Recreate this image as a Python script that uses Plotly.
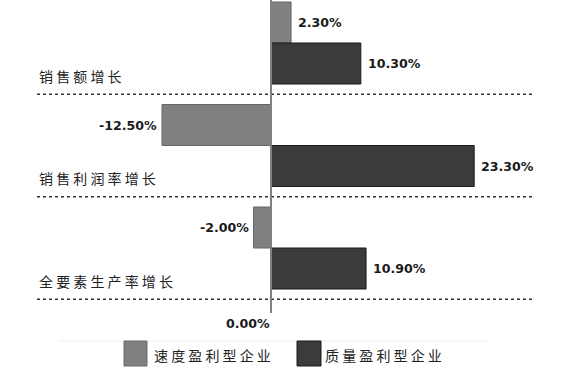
import plotly.graph_objects as go

categories = ["销售额增长", "销售利润率增长", "全要素生产率增长"]
series_names = ["速度盈利型企业", "质量盈利型企业"]
speed_values = [2.3, -12.5, -2.0]
quality_values = [10.3, 23.3, 10.9]
zero_label = "0.00%"

W, H = 571, 374
x0_px = 271.0
px_per_unit = 8.72
y_c0 = 43.0
px_per_cat = 102.5

xr = [-x0_px / px_per_unit, (W - x0_px) / px_per_unit]
yr = [(H - y_c0) / px_per_cat, -y_c0 / px_per_cat]

ypos = list(range(len(categories)))
cjk = "Noto Sans CJK SC"
numfont = dict(family="DejaVu Sans", size=12.6, color="#1a1a1a")

fig = go.Figure()
fig.add_trace(go.Bar(
    y=ypos, x=speed_values, orientation="h", name=series_names[0],
    width=0.4, offset=-0.4,
    marker=dict(color="#808080", line=dict(color="#666666", width=1)),
    showlegend=False, hoverinfo="skip"))
fig.add_trace(go.Bar(
    y=ypos, x=quality_values, orientation="h", name=series_names[1],
    width=0.4, offset=0.0,
    marker=dict(color="#3b3b3b", line=dict(color="#1a1a1a", width=1)),
    showlegend=False, hoverinfo="skip"))

ann = []
def fmt(v):
    return f"<b>{v:.2f}%</b>"
for i, v in enumerate(speed_values):
    ann.append(dict(x=v, y=i - 0.2, text=fmt(v), showarrow=False,
                    xanchor="left" if v >= 0 else "right",
                    xshift=5 if v >= 0 else -3, yanchor="middle", font=numfont))
for i, v in enumerate(quality_values):
    ann.append(dict(x=v, y=i + 0.2, text=fmt(v), showarrow=False,
                    xanchor="left" if v >= 0 else "right",
                    xshift=5 if v >= 0 else -3, yanchor="middle", font=numfont))
for i, c in enumerate(categories):
    ann.append(dict(x=37 / W, xref="paper", y=i + 0.32, text=" ".join(c),
                    showarrow=False, xanchor="left", yanchor="middle",
                    font=dict(family=cjk, size=14, color="#222222")))
ann.append(dict(x=0, y=(323 - y_c0) / px_per_cat, text="<b>" + zero_label + "</b>",
                showarrow=False, xanchor="center", xshift=-23, yanchor="middle",
                font=numfont))

shapes = []
for i in range(len(categories)):
    shapes.append(dict(type="line", xref="paper", x0=37 / W, x1=533 / W,
                       y0=i + 0.5, y1=i + 0.5,
                       line=dict(color="#333333", width=1.5, dash="dot")))
shapes.append(dict(type="line", x0=0, x1=0, y0=yr[1], y1=(313 - y_c0) / px_per_cat,
                   line=dict(color="#808080", width=2)))
# faint legend top border
shapes.append(dict(type="line", xref="paper", yref="paper", x0=60 / W, x1=490 / W,
                   y0=1 - 341 / H, y1=1 - 341 / H, line=dict(color="#eeeeee", width=1)))
# legend
leg = [("#808080", "#6a6a6a", 124, 147, 152), ("#3b3b3b", "#1a1a1a", 297, 321, 323)]
for (col, lc, xa, xb, xt), name in zip(leg, series_names):
    shapes.append(dict(type="rect", xref="paper", yref="paper",
                       x0=xa / W, x1=xb / W, y0=1 - 366 / H, y1=1 - 341 / H,
                       fillcolor=col, line=dict(color=lc, width=1)))
    ann.append(dict(x=xt / W, xref="paper", y=1 - 355 / H, yref="paper",
                    text=" ".join(name), showarrow=False, xanchor="left",
                    yanchor="middle", font=dict(family=cjk, size=14, color="#222222")))

fig.update_layout(
    width=W, height=H, margin=dict(l=0, r=0, t=0, b=0),
    paper_bgcolor="white", plot_bgcolor="white",
    barmode="overlay",
    xaxis=dict(range=xr, showgrid=False, zeroline=False, showticklabels=False,
               fixedrange=True),
    yaxis=dict(range=yr, showgrid=False, zeroline=False, showticklabels=False,
               fixedrange=True),
    annotations=ann, shapes=shapes, showlegend=False,
)
fig.write_html("out.html", config={"staticPlot": True},
               post_script="document.body.style.margin='0';document.body.style.padding='0';")
